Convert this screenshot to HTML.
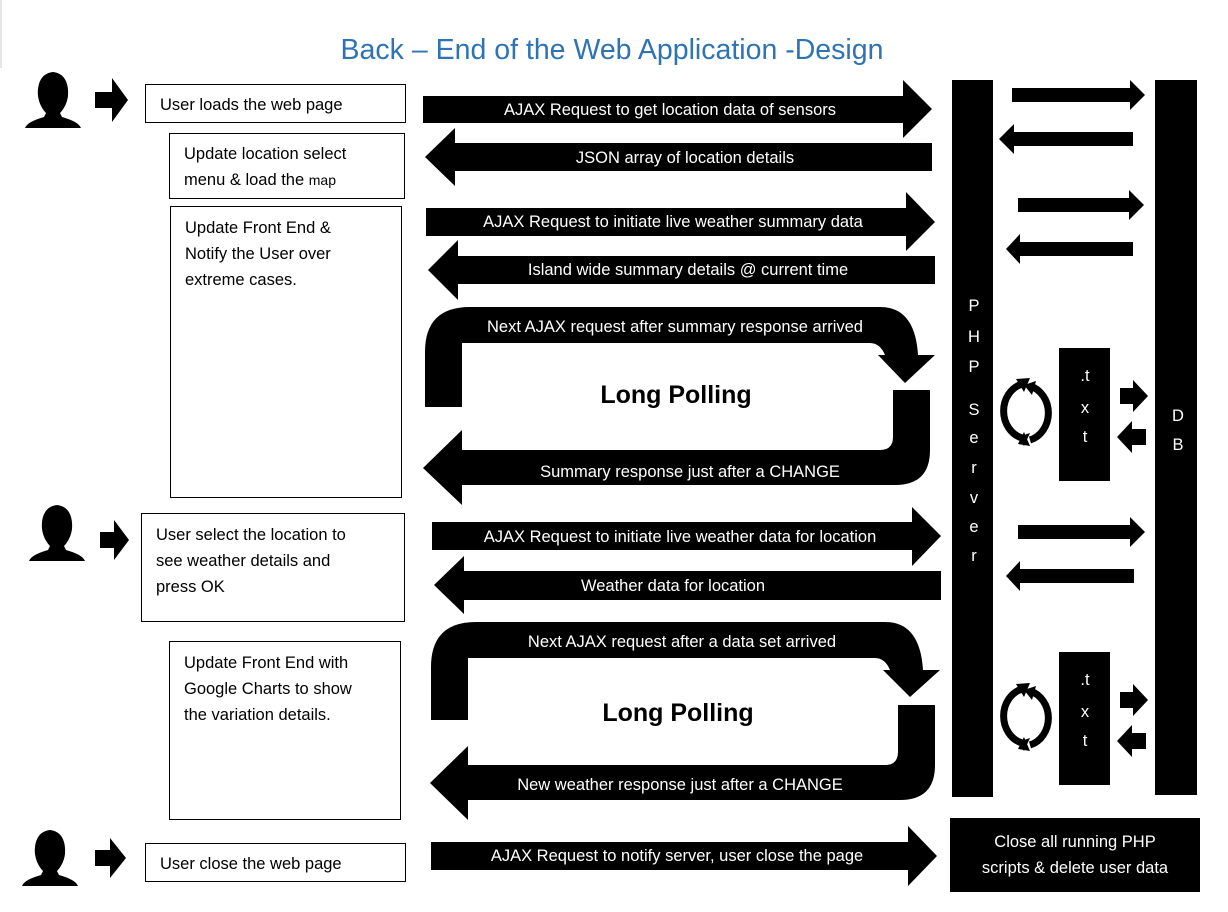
<!DOCTYPE html>
<html><head><meta charset="utf-8"><style>
html,body{margin:0;padding:0;background:#fff;}
svg{display:block;}
text{font-family:"Liberation Sans",sans-serif;}
.w{fill:#fff;font-size:16.5px;text-anchor:middle;}
.b{fill:#000;font-size:16.5px;}
</style></head><body>
<svg width="1228" height="912" viewBox="0 0 1228 912" xmlns="http://www.w3.org/2000/svg">
<line x1="1" y1="0" x2="1" y2="68" stroke="#ccc"/>
<text x="612" y="59" text-anchor="middle" font-size="28.5" fill="#2e74b5">Back – End of the Web Application -Design</text>

<g id="p">
<path d="M55,72 c-14,0 -18,12 -17,24 c1,8 5,14 8,17 l-2,4 c-10,3 -17,6 -19,11 l56,0 c-2,-5 -9,-8 -19,-11 l-2,-4 c3,-3 7,-9 8,-17 c1,-12 -3,-24 -17,-24z"/>
</g>
<use href="#p" x="4" y="433"/>
<use href="#p" x="-3" y="758"/>
<path d="M95,92 h17 v-14 l16,22 l-16,22 v-14 h-17z"/>
<path d="M100,532 h14 v-12 l15,20 l-15,20 v-12 h-14z"/>
<path d="M95,850 h15 v-12 l16,20 l-16,20 v-12 h-15z"/>

<g fill="none" stroke="#000" stroke-width="1">
<rect x="145.5" y="84.5" width="260" height="38"/>
<rect x="169.5" y="133.5" width="235" height="65"/>
<rect x="170.5" y="206.5" width="231" height="291"/>
<rect x="141.5" y="513.5" width="263" height="108"/>
<rect x="169.5" y="641.5" width="231" height="178"/>
<rect x="145.5" y="843.5" width="260" height="38"/>
</g>
<text class="b" x="160" y="110">User loads the web page</text>
<text class="b" x="184" y="159">Update location select</text>
<text class="b" x="184" y="185">menu &amp; load the <tspan font-size="14">map</tspan></text>
<text class="b" x="185" y="233">Update Front End &amp;</text>
<text class="b" x="185" y="259">Notify the User over</text>
<text class="b" x="185" y="285">extreme cases.</text>
<text class="b" x="156" y="540">User select the location to</text>
<text class="b" x="156" y="566">see weather details and</text>
<text class="b" x="156" y="592">press OK</text>
<text class="b" x="184" y="668">Update Front End with</text>
<text class="b" x="184" y="694">Google Charts to show</text>
<text class="b" x="184" y="720">the variation details.</text>
<text class="b" x="160" y="869">User close the web page</text>

<path d="M423,96 H903 V80 L932,109 L903,138 V123 H423Z"/>
<path d="M425,157 L455,128 V143 H932 V171 H455 V186Z"/>
<path d="M426,208 H906 V192 L935,222 L906,251 V236 H426Z"/>
<path d="M428,270 L458,240 V256 H935 V284 H458 V300Z"/>
<path d="M432,522 H912 V507 L941,536 L912,566 V550 H432Z"/>
<path d="M434,585 L464,556 V571 H941 V600 H464 V614Z"/>
<path d="M431,842 H908 V826 L937,856 L908,886 V870 H431Z"/>
<text class="w" x="670" y="115">AJAX Request to get location data of sensors</text>
<text class="w" x="685" y="163">JSON array of location details</text>
<text class="w" x="673" y="227">AJAX Request to initiate live weather summary data</text>
<text class="w" x="688" y="275">Island wide summary details @ current time</text>
<text class="w" x="680" y="542">AJAX Request to initiate live weather data for location</text>
<text class="w" x="673" y="591">Weather data for location</text>
<text class="w" x="677" y="861">AJAX Request to notify server, user close the page</text>

<path d="M425,407 V352 Q425,307 470,307 H880 Q915,307 918,355 H935 L905,383 L878,355 H885 Q880,343 870,343 H462 V407Z"/>
<path d="M893,390 H930 V450 Q930,485 895,485 H462 V505 L423,468 L462,430 V450 H880 Q893,450 893,437Z"/>
<text class="w" x="675" y="332">Next AJAX request after summary response arrived</text>
<text x="676" y="403" text-anchor="middle" font-size="25" font-weight="bold">Long Polling</text>
<text class="w" x="690" y="477">Summary response just after a CHANGE</text>

<path d="M431,720 V667 Q431,622 476,622 H885 Q920,622 923,670 H940 L910,697 L883,670 H890 Q885,658 875,658 H468 V720Z"/>
<path d="M898,705 H935 V765 Q935,800 900,800 H468 V820 L430,783 L468,746 V765 H885 Q898,765 898,752Z"/>
<text class="w" x="682" y="647">Next AJAX request after a data set arrived</text>
<text x="678" y="721" text-anchor="middle" font-size="25" font-weight="bold">Long Polling</text>
<text class="w" x="680" y="790">New weather response just after a CHANGE</text>

<rect x="952" y="80" width="41" height="717"/>
<rect x="1155" y="80" width="42" height="715"/>
<text class="w" x="974" y="311">P</text>
<text class="w" x="974" y="342">H</text>
<text class="w" x="974" y="372">P</text>
<text class="w" x="974" y="415">S</text>
<text class="w" x="974" y="443">e</text>
<text class="w" x="974" y="473">r</text>
<text class="w" x="974" y="503">v</text>
<text class="w" x="974" y="532">e</text>
<text class="w" x="974" y="561">r</text>
<text class="w" x="1178" y="421">D</text>
<text class="w" x="1178" y="450">B</text>

<path d="M1012,88 H1130 V80 L1145,95 L1130,110 V102 H1012Z"/>
<path d="M999,139 L1014,124 V132 H1133 V146 H1014 V154Z"/>
<path d="M1018,198 H1129 V190 L1144,205 L1129,220 V212 H1018Z"/>
<path d="M1006,249 L1020,234 V242 H1133 V256 H1020 V264Z"/>
<path d="M1018,525 H1130 V517 L1145,532 L1130,547 V539 H1018Z"/>
<path d="M1006,576 L1020,561 V569 H1134 V583 H1020 V591Z"/>

<rect x="1059" y="348" width="51" height="133"/>
<rect x="1059" y="652" width="51" height="133"/>
<text class="w" x="1085" y="381">.t</text>
<text class="w" x="1085" y="413">x</text>
<text class="w" x="1085" y="442">t</text>
<text class="w" x="1085" y="685">.t</text>
<text class="w" x="1085" y="717">x</text>
<text class="w" x="1085" y="746">t</text>
<path d="M1120,388 H1133 V380 L1148,396 L1133,412 V404 H1120Z"/>
<path d="M1117,437 L1132,421 V429 H1146 V445 H1132 V453Z"/>
<path d="M1120,692 H1133 V684 L1148,700 L1133,716 V708 H1120Z"/>
<path d="M1117,741 L1132,725 V733 H1146 V749 H1132 V757Z"/>

<g id="cyc" fill="none" stroke="#000" stroke-width="7">
<path d="M1022,384 A25,28 0 0 0 1022,438"/>
<path d="M1030,386 A25,28 0 0 1 1030,440"/>
</g>
<path d="M1016,379 L1030,378 L1024,392Z"/>
<path d="M1024,432 L1030,446 L1018,444Z"/>
<path d="M1036,381 L1024,385 L1032,395Z"/>
<path d="M1018,437 L1030,433 L1024,446Z"/>
<use href="#cyc" y="305"/>
<path d="M1016,684 L1030,683 L1024,697Z"/>
<path d="M1024,737 L1030,751 L1018,749Z"/>
<path d="M1036,686 L1024,690 L1032,700Z"/>
<path d="M1018,742 L1030,738 L1024,751Z"/>

<rect x="950" y="818" width="250" height="74"/>
<text class="w" x="1075" y="847">Close all running PHP</text>
<text class="w" x="1075" y="873">scripts &amp; delete user data</text>
</svg>
</body></html>
